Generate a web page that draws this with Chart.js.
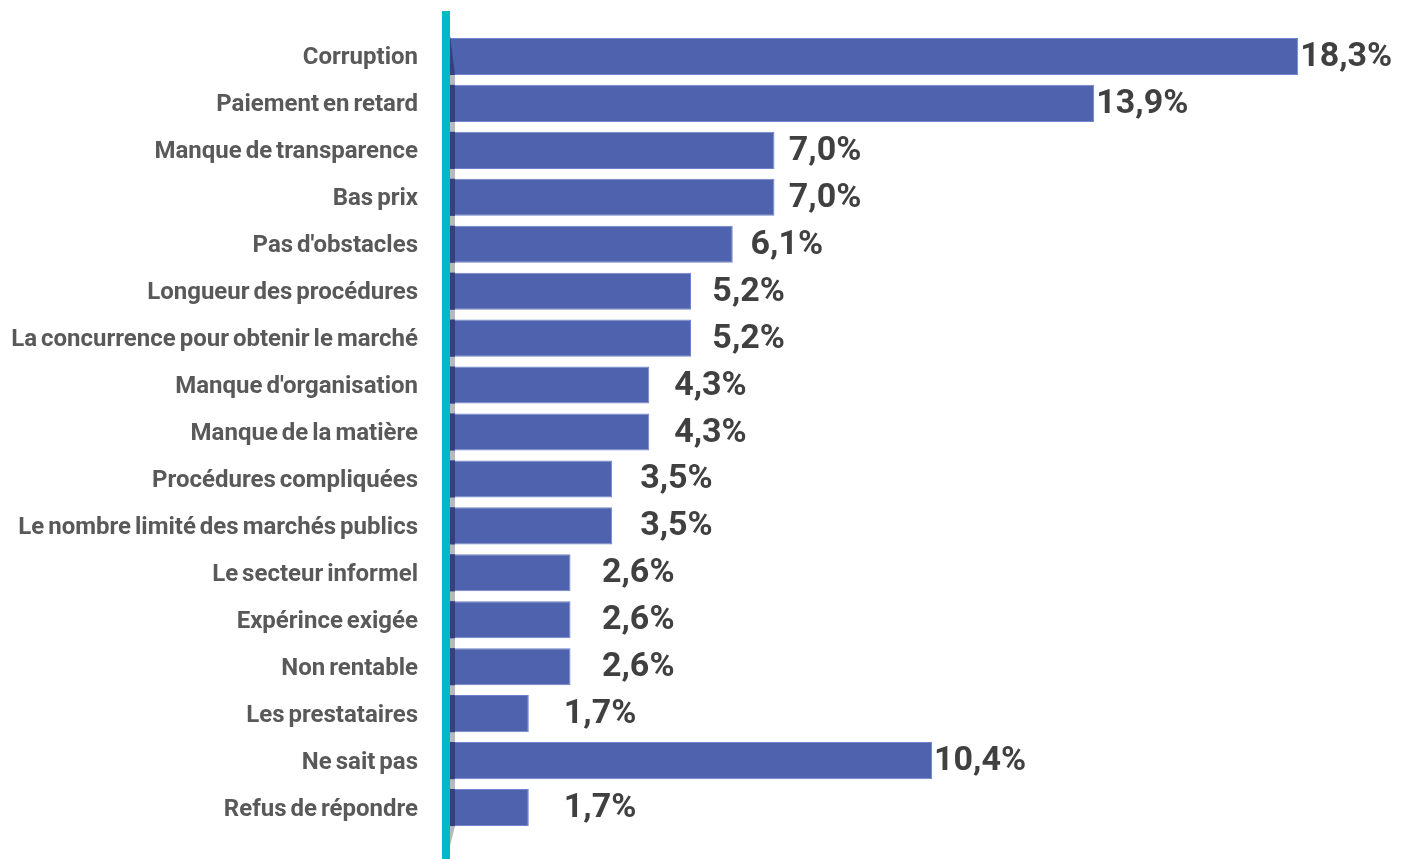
<!DOCTYPE html>
<html lang="fr">
<head>
<meta charset="utf-8">
<title>Obstacles aux marchés publics</title>
<script src="https://cdn.jsdelivr.net/npm/chart.js@4"></script>
<style>
    html, body {
        margin: 0;
        padding: 0;
        background: #ffffff;
    }
    .chart-wrap {
        position: relative;
        width: 1407px;
        height: 859px;
    }
</style>
</head>
<body>
<div class="chart-wrap">
    <canvas id="obstacles-chart"></canvas>
</div>
<script>
// Categories and shares (%)
const categories = [
    'Corruption',
    'Paiement en retard',
    'Manque de transparence',
    'Bas prix',
    "Pas d'obstacles",
    'Longueur des procédures',
    'La concurrence pour obtenir le marché',
    "Manque d'organisation",
    'Manque de la matière',
    'Procédures compliquées',
    'Le nombre limité des marchés publics',
    'Le secteur informel',
    'Expérince exigée',
    'Non rentable',
    'Les prestataires',
    'Ne sait pas',
    'Refus de répondre'
];
const shares = [18.3, 13.9, 7.0, 7.0, 6.1, 5.2, 5.2, 4.3, 4.3, 3.5, 3.5, 2.6, 2.6, 2.6, 1.7, 10.4, 1.7];

const BAR_COLOR = '#4f62ad';
const AXIS_COLOR = '#00b9c7';

/**
 * Format a share the French way: 18,3%
 */
function formatShare(v) {
    return v.toFixed(1).replace('.', ',') + '%';
}

/**
 * Tighter word spacing for the category labels
 */
const spacingPlugin = {
    id: 'spacing',
    beforeDraw(chart) {
        chart.ctx.wordSpacing = '-2px';
    }
};

/**
 * Gray bevel strip behind the bars, next to the axis
 */
const bevelPlugin = {
    id: 'bevel',
    beforeDatasetsDraw(chart) {
        const { ctx, chartArea } = chart;
        const bars = chart.getDatasetMeta(0).data;
        const first = bars[0];
        const last = bars[bars.length - 1];
        const x = chartArea.left;
        ctx.save();
        ctx.fillStyle = '#b9b9b9';
        ctx.fillRect(x, first.y, 5, last.y - first.y);
        // small taper below the last bar
        const bottom = last.y + last.height / 2;
        ctx.beginPath();
        ctx.moveTo(x, bottom);
        ctx.lineTo(x + 5, bottom);
        ctx.lineTo(x, bottom + 20);
        ctx.closePath();
        ctx.fill();
        ctx.restore();
    },
    afterDatasetsDraw(chart) {
        const { ctx, chartArea } = chart;
        const bars = chart.getDatasetMeta(0).data;
        const x = chartArea.left;
        ctx.save();
        ctx.fillStyle = '#373f7c';
        bars.forEach((bar, i) => {
            const top = bar.y - bar.height / 2;
            if (i === 0) {
                // first bar tapers toward the top
                ctx.beginPath();
                ctx.moveTo(x, top - 3);
                ctx.lineTo(x + 5, top + bar.height);
                ctx.lineTo(x, top + bar.height);
                ctx.closePath();
                ctx.fill();
            } else {
                ctx.fillRect(x, top, 5, bar.height);
            }
        });
        // teal axis line
        ctx.fillStyle = AXIS_COLOR;
        ctx.fillRect(x - 8, 11, 8, chart.height - 11);
        ctx.restore();
    }
};

/**
 * Value labels past the end of each bar
 */
const valueLabelPlugin = {
    id: 'valueLabels',
    afterDatasetsDraw(chart) {
        const { ctx } = chart;
        const meta = chart.getDatasetMeta(0);
        ctx.save();
        ctx.font = 'bold 34px Roboto';
        ctx.fillStyle = '#404040';
        ctx.textAlign = 'left';
        ctx.textBaseline = 'middle';
        meta.data.forEach((bar, i) => {
            const v = shares[i];
            // short bars get their label pushed a bit further out
            const gap = Math.max(2, 35 - 3.9 * (v - 1.7));
            ctx.fillText(formatShare(v), bar.x + gap, bar.y + 1);
        });
        ctx.restore();
    }
};

const ctx = document.getElementById('obstacles-chart').getContext('2d');

new Chart(ctx, {
    type: 'bar',
    data: {
        labels: categories,
        datasets: [{
            data: shares,
            backgroundColor: BAR_COLOR,
            borderColor: '#7084c9',
            borderWidth: 1,
            borderSkipped: 'left',
            categoryPercentage: 1,
            barPercentage: 0.79
        }]
    },
    options: {
        indexAxis: 'y',
        responsive: true,
        maintainAspectRatio: false,
        animation: false,
        layout: {
            padding: { top: 33, bottom: 28, left: 0, right: 30 }
        },
        plugins: {
            legend: { display: false },
            tooltip: { enabled: false }
        },
        scales: {
            x: {
                display: false,
                min: 0,
                max: 20
            },
            y: {
                afterFit(scale) {
                    scale.width = 450;
                    scale.paddingTop = 0;
                    scale.paddingBottom = 0;
                },
                grid: {
                    display: false,
                    drawTicks: false,
                    tickLength: 0
                },
                border: { display: false },
                ticks: {
                    padding: 32,
                    labelOffset: 2,
                    color: '#595959',
                    font: {
                        family: 'Roboto',
                        size: 24,
                        weight: 'bold'
                    }
                }
            }
        }
    },
    plugins: [spacingPlugin, bevelPlugin, valueLabelPlugin]
});
</script>
</body>
</html>
